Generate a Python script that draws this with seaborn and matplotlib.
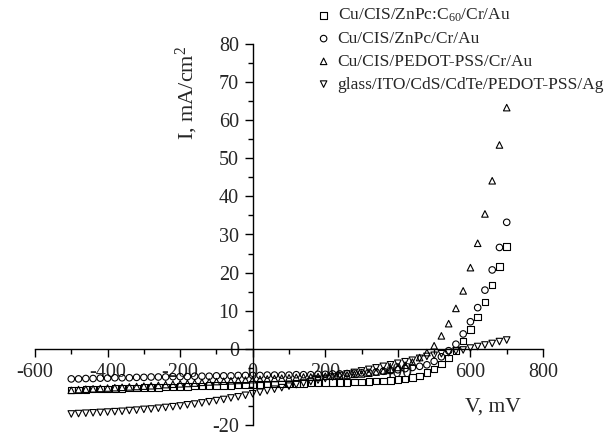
import matplotlib
matplotlib.use("Agg")
import matplotlib.pyplot as plt
from matplotlib.ticker import MultipleLocator
import pandas as pd
import seaborn as sns

voltage = [-500, -480, -460, -440, -420, -400, -380, -360, -340, -320,
           -300, -280, -260, -240, -220, -200, -180, -160, -140, -120,
           -100, -80, -60, -40, -20, 0, 20, 40, 60, 80,
           100, 120, 140, 160, 180, 200, 220, 240, 260, 280,
           300, 320, 340, 360, 380, 400, 420, 440, 460, 480,
           500, 520, 540, 560, 580, 600, 620, 640, 660, 680, 700]

zncp_c60 = [-10.8, -10.8, -10.7, -10.6, -10.6, -10.5, -10.4, -10.4, -10.3, -10.3,
            -10.2, -10.1, -10.1, -10.0, -10.0, -9.9, -9.9, -9.8, -9.8, -9.7,
            -9.7, -9.6, -9.6, -9.5, -9.5, -9.4, -9.4, -9.3, -9.3, -9.2,
            -9.2, -9.1, -9.1, -9.0, -9.0, -8.9, -8.9, -8.8, -8.8, -8.7,
            -8.7, -8.6, -8.5, -8.4, -8.3, -8.1, -7.9, -7.6, -7.1, -6.2,
            -5.3, -4.0, -2.4, -0.5, 2.1, 5.1, 8.4, 12.3, 16.7, 21.6, 26.9]

zncp = [-7.9, -7.9, -7.8, -7.8, -7.7, -7.7, -7.6, -7.6, -7.6, -7.5,
        -7.5, -7.4, -7.4, -7.4, -7.3, -7.3, -7.3, -7.2, -7.2, -7.2,
        -7.1, -7.1, -7.1, -7.0, -7.0, -7.0, -7.0, -6.9, -6.9, -6.9,
        -6.9, -6.8, -6.8, -6.8, -6.7, -6.7, -6.6, -6.6, -6.5, -6.4,
        -6.3, -6.2, -6.1, -5.9, -5.7, -5.5, -5.2, -4.9, -4.6, -4.2,
        -3.3, -2.1, -0.5, 1.2, 3.9, 7.1, 10.8, 15.4, 20.7, 26.6, 33.2]

pedot = [-10.9, -10.7, -10.6, -10.5, -10.4, -10.3, -10.2, -10.1, -10.0, -9.9,
         -9.8, -9.7, -9.6, -9.4, -9.3, -9.2, -9.1, -9.0, -8.8, -8.7,
         -8.6, -8.5, -8.4, -8.3, -8.2, -8.1, -8.0, -7.9, -7.8, -7.7,
         -7.6, -7.5, -7.4, -7.4, -7.3, -7.2, -7.1, -7.0, -6.9, -6.7,
         -6.6, -6.4, -6.1, -5.8, -5.4, -4.9, -4.3, -3.5, -2.3, -1.0,
         0.8, 3.4, 6.6, 10.6, 15.2, 21.3, 27.7, 35.4, 44.1, 53.5, 63.3]

cdte = [-17.1, -17.0, -16.9, -16.8, -16.7, -16.6, -16.5, -16.4, -16.2, -16.1,
        -15.9, -15.8, -15.6, -15.4, -15.2, -15.0, -14.7, -14.5, -14.2, -13.9,
        -13.6, -13.3, -12.9, -12.6, -12.2, -11.8, -11.4, -11.0, -10.6, -10.2,
        -9.8, -9.4, -9.0, -8.6, -8.2, -7.8, -7.4, -7.0, -6.6, -6.2,
        -5.8, -5.4, -5.0, -4.6, -4.2, -3.8, -3.4, -3.0, -2.5, -2.0,
        -1.7, -1.3, -1.0, -0.6, -0.3, 0.2, 0.6, 1.0, 1.4, 1.9, 2.3]

labels = ["Cu/CIS/ZnPc:C$_{60}$/Cr/Au",
          "Cu/CIS/ZnPc/Cr/Au",
          "Cu/CIS/PEDOT-PSS/Cr/Au",
          "glass/ITO/CdS/CdTe/PEDOT-PSS/Ag"]
series = [zncp_c60, zncp, pedot, cdte]
markers = ["s", "o", "^", "v"]

x_ticks = [-600, -400, -200, 0, 200, 400, 600, 800]
y_ticks = [-20, 0, 10, 20, 30, 40, 50, 60, 70, 80]

sns.set_style("ticks")
plt.rcParams["font.family"] = ["Liberation Serif", "DejaVu Serif"]
plt.rcParams["mathtext.fontset"] = "custom"
plt.rcParams["mathtext.rm"] = "Liberation Serif"
plt.rcParams["mathtext.it"] = "Liberation Serif:italic"

fig = plt.figure(figsize=(6.13, 4.36), dpi=100)
ax = fig.add_axes([35 / 613, 1 - 425 / 436, 508 / 613, 381 / 436])

for vals, lab, mk in zip(series, labels, markers):
    df = pd.DataFrame({"V": voltage, "I": vals})
    sns.scatterplot(data=df, x="V", y="I", marker=mk, s=22, ax=ax,
                    color="black", linewidth=0.8, label=lab, legend=False)

for coll in ax.collections:
    coll.set_facecolor("none")
    coll.set_edgecolor("black")
    coll.set_linewidth(0.8)

ax.set_xlim(-600, 800)
ax.set_ylim(-20, 80)
ax.spines["left"].set_position(("data", 0))
ax.spines["bottom"].set_position(("data", 0))
ax.spines["top"].set_visible(False)
ax.spines["right"].set_visible(False)
for s in ("left", "bottom"):
    ax.spines[s].set_linewidth(1.0)
    ax.spines[s].set_color("black")

ax.set_xticks(x_ticks)
ax.set_yticks(y_ticks)
ax.set_xticklabels([str(t) for t in x_ticks])
ax.set_yticklabels([str(t) for t in y_ticks])
ax.xaxis.set_minor_locator(MultipleLocator(100))
ax.yaxis.set_minor_locator(MultipleLocator(5))
ax.tick_params(which="major", direction="out", length=6, width=1.0,
               labelsize=14.5, pad=4, color="black")
ax.tick_params(which="minor", direction="out", length=3.5, width=1.0,
               color="black")
ax.set_xlabel("")
ax.set_ylabel("")

ax.text(0.299, 0.871, "I, mA/cm$^{2}$", transform=ax.transAxes, rotation=90,
        ha="center", va="center", fontsize=16)
ax.text(0.902, 0.047, "V, mV", transform=ax.transAxes,
        ha="center", va="center", fontsize=15.5)

handles = ax.collections[:4]
leg = fig.legend(handles, labels, loc="upper right",
                 bbox_to_anchor=(604 / 613, 1 - 7 / 436), frameon=False,
                 fontsize=12.5, handletextpad=0.3, labelspacing=0.38,
                 borderaxespad=0, handlelength=1.0, borderpad=0)

fig.savefig("out.png", dpi=100)
